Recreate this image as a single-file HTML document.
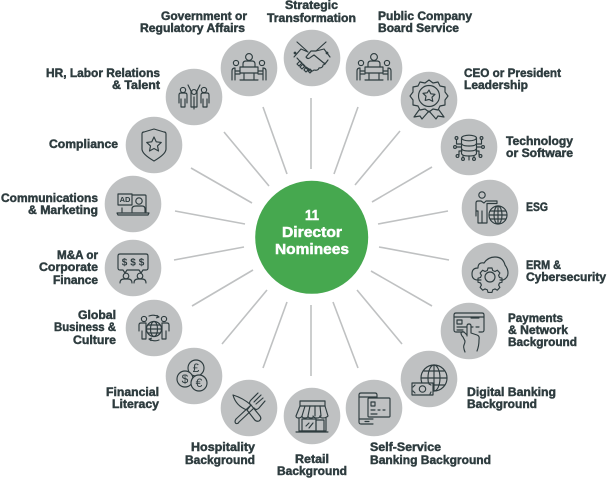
<!DOCTYPE html>
<html><head><meta charset="utf-8"><title>11 Director Nominees</title>
<style>
html,body{margin:0;padding:0;background:#fff;width:607px;height:478px;overflow:hidden}
svg{display:block}
.t text{font-family:"Liberation Sans",sans-serif;font-weight:bold;font-size:11.7px;fill:#2e3c3f;stroke:#2e3c3f;stroke-width:.45}
.c text{font-family:"Liberation Sans",sans-serif;font-weight:bold;font-size:15px;fill:#fff;stroke:#fff;stroke-width:.5}
.l line{stroke:#bfc1c2;stroke-width:1.6}
.n circle{fill:#bfc1c2}
.i{fill:none;stroke:#2e3c3f;stroke-width:1.15;stroke-linejoin:round;stroke-linecap:round}
.i text{font-family:"Liberation Sans",sans-serif;fill:#2e3c3f;stroke:none;text-anchor:middle}
</style></head><body>
<svg width="607" height="478" viewBox="0 0 607 478" xmlns="http://www.w3.org/2000/svg">
<defs>
<g id="meet"><circle cx="0" cy="-11" r="3.4"/><path d="M-6-1v-3q0-3 3-3h6q3 0 3 3v3"/><path d="M-9-1H9V5H-9zM-5 5v6M5 5v6M-9 12H9"/><circle cx="-13" cy="-5" r="2.6"/><circle cx="13" cy="-5" r="2.6"/><path d="M-9 3h-5v-3q-3 0-3 3v9M-14 3v9M-9 6h-5M9 3h5v-3q3 0 3 3v9M14 3v9M9 6h5"/></g>
</defs>
<g class="l">
<line x1="311" y1="169" x2="311" y2="98"/>
<line x1="334" y1="174" x2="358" y2="107"/>
<line x1="287" y1="174" x2="263" y2="107"/>
<line x1="355" y1="185" x2="400" y2="131"/>
<line x1="372" y1="202" x2="432" y2="167"/>
<line x1="378" y1="224" x2="448" y2="211"/>
<line x1="379" y1="247" x2="449" y2="260"/>
<line x1="371" y1="271" x2="432" y2="306"/>
<line x1="357" y1="290" x2="402" y2="344"/>
<line x1="333" y1="302" x2="358" y2="368"/>
<line x1="311" y1="305" x2="311" y2="376"/>
<line x1="287" y1="302" x2="263" y2="368"/>
<line x1="267" y1="290" x2="222" y2="344"/>
<line x1="253" y1="270" x2="192" y2="306"/>
<line x1="244" y1="247" x2="174" y2="260"/>
<line x1="245" y1="224" x2="175" y2="211"/>
<line x1="252" y1="203" x2="191" y2="168"/>
<line x1="269" y1="186" x2="224" y2="132"/>
</g>
<circle cx="311.7" cy="237.3" r="56.5" fill="#46a84f"/>
<g class="n">
<circle cx="312" cy="58" r="28.3"/><circle cx="249" cy="68" r="28.3"/><circle cx="374" cy="68" r="28.3"/>
<circle cx="194" cy="97" r="28.3"/><circle cx="429" cy="100" r="28.3"/><circle cx="469" cy="147" r="28.3"/>
<circle cx="490" cy="208" r="28.3"/><circle cx="490" cy="271" r="28.3"/><circle cx="469" cy="331" r="28.3"/>
<circle cx="429" cy="379" r="28.3"/><circle cx="154" cy="145" r="28.3"/><circle cx="133" cy="204" r="28.3"/>
<circle cx="133" cy="268" r="28.3"/><circle cx="154" cy="328" r="28.3"/><circle cx="194" cy="376" r="28.3"/>
<circle cx="249" cy="408" r="28.3"/><circle cx="312" cy="416" r="28.3"/><circle cx="374" cy="408" r="28.3"/>
</g>

<!-- handshake -->
<g class="i" transform="translate(312,58)">
<path d="M-15-16L-5-7M14-16L4-7"/><circle cx="-17" cy="-5" r=".8"/><circle cx="15" cy="-5" r=".8"/>
<path d="M-18-1L-11-9L-4-6M18-1L12-9L4-7H-1L-6-1Q-4 2-1-1L2-3L13 6L16 2"/>
<path d="M-15 0L-6 10Q-1 15 2 12Q6 13 7 10Q11 10 11 7Q14 6 13 5"/>
<path d="M-12 3l-3 3 2 2 3-3zM-9 6l-3 3 2 2 3-3zM-6 9l-2 3 2 2 3-3zM-2 11l-2 2 2 2 2-2z"/>
</g>
<use href="#meet" class="i" transform="translate(249,68)"/>
<use href="#meet" class="i" transform="translate(374,68)"/>
<!-- HR -->
<g class="i" transform="translate(194,97)">
<circle cx="-11" cy="-7" r="2.6"/><circle cx="10" cy="-7" r="2.6"/><circle cx="0" cy="-5" r="2.4"/>
<path d="M-15 6v-8q0-2 2-2h4q2 0 2 2v8M-13 2v8h4v-8M-6-12l3 6v16h6V-6l3-6M0 0v12"/>
<path d="M15 6v-8q0-2-2-2H9q-2 0-2 2v8M13 2v8H9V2"/>
</g>
<!-- CEO -->
<g class="i" transform="translate(429,100)">
<path d="M0-20l4 3 5-1 2 4 5 1 0 5 3 4-3 4 0 5-5 1-2 4-5-1-4 3-4-3-5 1-2-4-5-1 0-5-3-4 3-4 0-5 5-1 2-4 5 1z"/>
<circle cx="0" cy="-4" r="10.5"/>
<path d="M0-10l1.8 3.8 4.2.5-3 2.9.8 4.2L0-.6-3.800.4-3-3.800-6-6.700l4.200-.5z"/>
<path d="M-10 10L-15 17l6-1 2 3 7-8 7 8 2-3 6 1-5-7"/>
</g>
<!-- Tech -->
<g class="i" transform="translate(469,147)">
<ellipse cx="0" cy="-9" rx="7.5" ry="2.8"/><path d="M-7.500-9V6q0 3 7.500 3t7.500-3V-9M-7.500-4q0 3 7.500 3t7.500-3M-7.500 1q0 3 7.500 3t7.500-3"/>
<circle cx="-12.5" cy="-9" r="1.4"/><circle cx="12.5" cy="-9" r="1.4"/><circle cx="-14" cy="0" r="1.4"/><circle cx="14" cy="0" r="1.4"/>
<circle cx="-11.5" cy="9" r="1.4"/><circle cx="11.5" cy="9" r="1.4"/><circle cx="-6" cy="12" r="1.4"/><circle cx="5" cy="12" r="1.4"/>
<path d="M-12.500-7.500V-3H-8M12.500-7.500V-3H8M-12.500 0H-8M12.500 0H8M-10 8V4H-7M10 8V4H7M-6 10.500V9M5 10.500V9M0 9v4"/>
</g>
<!-- ESG -->
<g class="i" transform="translate(490,208)">
<circle cx="-8" cy="-13" r="3.2"/>
<path d="M-14 8V-5q0-2 2-2h3l3 2 2-2H7v2.500H-3V15H-8V3M-8 15h-4V3h-2"/>
<circle cx="8" cy="7" r="9"/><ellipse cx="8" cy="7" rx="4" ry="9"/><path d="M-1 7H17M0 3H16M0 11H16M8-2V16"/>
</g>
<!-- ERM -->
<g class="i" transform="translate(490,271)">
<path d="M-9 9H-12Q-18 9-18 3Q-18-3-12-3Q-12-9-6-8Q-2-14 5-14Q13-14 15-6Q18-2 18 2Q18 7 13 9H10"/>
<circle cx="0" cy="6" r="5"/>
<path d="M-2-3h4l.7 2.500 2.300 1 2.300-1.300 2.600 2.800-1.300 2.300.9 2.200 2.500.7v4l-2.500.7-.9 2.200 1.300 2.300-2.600 2.800-2.300-1.300-2.300 1-.7 2.500h-4l-.7-2.500-2.300-1-2.300 1.300-2.600-2.800 1.300-2.300-.9-2.200-2.500-.7v-4l2.500-.7.9-2.200-1.300-2.300 2.600-2.800 2.300 1.300 2.300-1z"/>
</g>
<!-- Payments -->
<g class="i" transform="translate(469,331)">
<path d="M-5 1H-13q-2 0-2-2V-16q0-2 2-2H13q2 0 2 2V-1q0 2-2 2H10"/>
<path d="M-15-14H15"/><rect x="-12" y="-11" width="5" height="4"/><path d="M2-13H10M-12-4H-2M2-4H4M7-4H10M-12-1H-6"/>
<path d="M-2 5V-5Q-2-7 0-7Q2-7 2-5V2L8 4Q11 5 10 9Q10 15 8 20M-2 4L-5 1Q-7 0-8 2Q-8 4-6 6L-4 10Q-4 12-5 14Q-6 16-4 21"/>
</g>
<!-- Digital -->
<g class="i" transform="translate(429,379)">
<circle cx="5" cy="-1" r="13"/><ellipse cx="5" cy="-1" rx="6" ry="13"/><path d="M5-14V12M-8-1H18M-5-8H15M-5 6H16"/>
<rect x="-17" y="4" width="21" height="12" fill="#bfc1c2"/><circle cx="-6.500" cy="10" r="3.200"/><path d="M-14 6l-2 2M-16 12l2 2M2 6l-2-1M2 13l-1 2"/>
</g>
<!-- Compliance -->
<g class="i" transform="translate(154,145)">
<path d="M-12-11Q-12-13-10-13L0-16 10-13Q12-13 12-11V4Q12 9 0 16Q-12 9-12 4Z"/>
<path d="M0-8l2.200 4.800 5.100.6-3.800 3.500 1 5.100L0 3.500-4.500 6l1-5.100-3.800-3.500 5.100-.6z"/>
</g>
<!-- Comms -->
<g class="i" transform="translate(133,204)">
<path d="M-11-9H12q1 0 1 1V8M-11 8V4"/>
<rect x="-15" y="-10" width="14" height="11" fill="#bfc1c2"/>
<text x="-8" y="-2" font-size="7.500" font-weight="bold">AD</text>
<circle cx="6" cy="-3" r="3.200"/><path d="M-1 8V5Q-1 2 3 2H9Q12 2 12 5V8"/><path d="M-16 9H16L15 11H-15Z"/>
</g>
<!-- M&A -->
<g class="i" transform="translate(133,268)">
<path d="M-13-14H13q2 0 2 2V0q0 2-2 2H10L8 5 6 2H-6L-8 5-10 2H-13q-2 0-2-2V-12q0-2 2-2z"/>
<text x="-8.500" y="-2.500" font-size="10" font-weight="bold">$</text><text x="0" y="-2.500" font-size="10" font-weight="bold">$</text><text x="8.500" y="-2.500" font-size="10" font-weight="bold">$</text>
<circle cx="-7" cy="8" r="2.800"/><circle cx="7" cy="8" r="2.800"/>
<path d="M-13 15Q-13 11-9 11H-5Q-1 11-1 15M1 15Q1 11 5 11H9Q13 11 13 15"/>
</g>
<!-- Global -->
<g class="i" transform="translate(154,328)">
<circle cx="-10" cy="-9" r="2.600"/><circle cx="10" cy="-9" r="2.600"/>
<path d="M-15 3V-3q0-2 2-2h5v16h-4V3M15 3V-3q0-2-2-2H8v16h4V3"/>
<circle cx="0" cy="1" r="7.500" fill="#bfc1c2"/><ellipse cx="0" cy="1" rx="3.500" ry="7.500"/><path d="M-7.500 1H7.500M-6-3H6M-6 5H6"/>
<path d="M-5-12Q0-14 5-11M3-12.500l2 1.500-2.500.800M5 12Q0 14-5 11M-3 12.500l-2-1.500 2.500-.8"/>
</g>
<!-- Financial -->
<g class="i" transform="translate(194,376)">
<circle cx="2" cy="-8" r="8"/><circle cx="-9" cy="3" r="8" fill="#bfc1c2"/><circle cx="5" cy="7" r="8" fill="#bfc1c2"/>
<text x="2" y="-4" font-size="12">£</text><text x="-9" y="7" font-size="12">$</text><text x="5" y="11" font-size="12">€</text>
</g>
<!-- Hospitality -->
<g class="i" transform="translate(249,408)">
<path d="M-16-13Q-6-10 2-3L11 8Q13 11 10 13Q7 14 5 11L-2 2Q-13-2-16-13ZM2-3L-2 2"/>
<path d="M-13 11L2-3M-10 14L5 0M-13 11Q-15 14-13 15.500Q-11 16-10 14"/>
<path d="M2-3Q-1-5 2-8L9-15M5 0Q7 3 10 0L16-7M5-6L12-13M7-4L14-10"/>
</g>
<!-- Retail -->
<g class="i" transform="translate(312,416)">
<rect x="-12" y="-15" width="25" height="5"/>
<path d="M-12-10L-16 0Q-16 2-13.500 2T-10 0Q-10 2-7 2T-4 0Q-4 2-1 2T1 0Q2 2 5 2T8 0Q8 2 11 2T16 0L13-10M-7-10L-10 0M-2-10L-4 0M3-10V0M8-10L9 0"/>
<path d="M-13 2V15H14V2M-16 16H16"/><rect x="-10" y="3" width="14" height="12"/><path d="M4 15V4H12V15M-6 10l3-3M-3 12l4-5"/>
</g>
<!-- Self-service -->
<g class="i" transform="translate(374,408)">
<path d="M-1 16H-13q-2 0-2-2V-13q0-2 2-2H1q2 0 2 2V-10M-15-11H3M-15 11H-1M-9 13.500H-5"/>
<rect x="-6" y="-10" width="22" height="19" rx="1" fill="#bfc1c2"/>
<rect x="-3" y="-6" width="4" height="4"/><path d="M-3 2H1M4 2H6M9 2H11M-3 6H3"/>
</g>

<g class="c" text-anchor="start">
<text x="305" y="220" textLength="14" lengthAdjust="spacingAndGlyphs">11</text>
<text x="282" y="237" textLength="60" lengthAdjust="spacingAndGlyphs">Director</text>
<text x="275" y="254" textLength="74" lengthAdjust="spacingAndGlyphs">Nominees</text>
</g>
<g class="t">
<text x="285" y="9" textLength="53" lengthAdjust="spacingAndGlyphs">Strategic</text>
<text x="267" y="22" textLength="89" lengthAdjust="spacingAndGlyphs">Transformation</text>
<text x="161" y="20" textLength="86" lengthAdjust="spacingAndGlyphs">Government or</text>
<text x="140" y="32" textLength="105" lengthAdjust="spacingAndGlyphs">Regulatory Affairs</text>
<text x="378" y="20" textLength="94" lengthAdjust="spacingAndGlyphs">Public Company</text>
<text x="378" y="32" textLength="81" lengthAdjust="spacingAndGlyphs">Board Service</text>
<text x="464" y="77" textLength="97" lengthAdjust="spacingAndGlyphs">CEO or President</text>
<text x="464" y="89" textLength="64" lengthAdjust="spacingAndGlyphs">Leadership</text>
<text x="506" y="145" textLength="67" lengthAdjust="spacingAndGlyphs">Technology</text>
<text x="506" y="157" textLength="67" lengthAdjust="spacingAndGlyphs">or Software</text>
<text x="526" y="211" textLength="22" lengthAdjust="spacingAndGlyphs">ESG</text>
<text x="526" y="269" textLength="35" lengthAdjust="spacingAndGlyphs">ERM &amp;</text>
<text x="526" y="281" textLength="80" lengthAdjust="spacingAndGlyphs">Cybersecurity</text>
<text x="508" y="322" textLength="55" lengthAdjust="spacingAndGlyphs">Payments</text>
<text x="508" y="334" textLength="60" lengthAdjust="spacingAndGlyphs">&amp; Network</text>
<text x="508" y="346" textLength="69" lengthAdjust="spacingAndGlyphs">Background</text>
<text x="467" y="396" textLength="89" lengthAdjust="spacingAndGlyphs">Digital Banking</text>
<text x="467" y="408" textLength="70" lengthAdjust="spacingAndGlyphs">Background</text>
<text x="46" y="77" textLength="114" lengthAdjust="spacingAndGlyphs">HR, Labor Relations</text>
<text x="112" y="89" textLength="48" lengthAdjust="spacingAndGlyphs">&amp; Talent</text>
<text x="49" y="148" textLength="69" lengthAdjust="spacingAndGlyphs">Compliance</text>
<text x="1" y="202" textLength="97" lengthAdjust="spacingAndGlyphs">Communications</text>
<text x="28" y="214" textLength="70" lengthAdjust="spacingAndGlyphs">&amp; Marketing</text>
<text x="57" y="259" textLength="41" lengthAdjust="spacingAndGlyphs">M&amp;A or</text>
<text x="39" y="271" textLength="59" lengthAdjust="spacingAndGlyphs">Corporate</text>
<text x="53" y="284" textLength="45" lengthAdjust="spacingAndGlyphs">Finance</text>
<text x="78" y="319" textLength="38" lengthAdjust="spacingAndGlyphs">Global</text>
<text x="54" y="331" textLength="62" lengthAdjust="spacingAndGlyphs">Business &amp;</text>
<text x="73" y="344" textLength="43" lengthAdjust="spacingAndGlyphs">Culture</text>
<text x="106" y="396" textLength="53" lengthAdjust="spacingAndGlyphs">Financial</text>
<text x="112" y="408" textLength="47" lengthAdjust="spacingAndGlyphs">Literacy</text>
<text x="191" y="451" textLength="64" lengthAdjust="spacingAndGlyphs">Hospitality</text>
<text x="185" y="464" textLength="70" lengthAdjust="spacingAndGlyphs">Background</text>
<text x="295" y="463" textLength="34" lengthAdjust="spacingAndGlyphs">Retail</text>
<text x="277" y="475" textLength="70" lengthAdjust="spacingAndGlyphs">Background</text>
<text x="370" y="451" textLength="71" lengthAdjust="spacingAndGlyphs">Self-Service</text>
<text x="370" y="464" textLength="121" lengthAdjust="spacingAndGlyphs">Banking Background</text>
</g>
</svg>
</body></html>
